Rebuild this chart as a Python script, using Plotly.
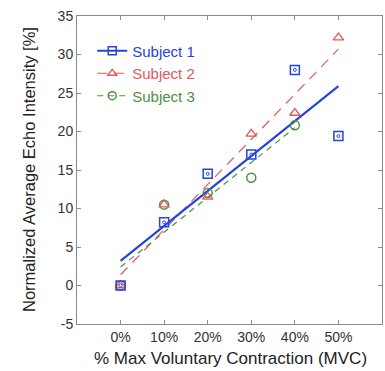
import plotly.graph_objects as go

x_vals = [0, 10, 20, 30, 40, 50]
tick_labels = ["0%", "10%", "20%", "30%", "40%", "50%"]
y_ticks = [-5, 0, 5, 10, 15, 20, 25, 30, 35]
y_tick_labels = ["-5", "0", "5", "10", "15", "20", "25", "30", "35"]

subject1 = [0, 8.2, 14.5, 17.0, 28.0, 19.4]
subject2 = [0, 10.5, 11.5, 19.7, 22.4, 32.2]
x3 = [0, 10, 20, 30, 40]
subject3 = [0, 10.5, 12.0, 14.0, 20.8]

fit1_x = [0, 50]
fit1_y = [3.2, 25.9]
fit2_x = [0, 50]
fit2_y = [1.4, 30.7]
fit3_x = [0, 40]
fit3_y = [2.4, 20.5]

blue = "#2543e0"
red = "#e05a5a"
green = "#4f8f45"

fig = go.Figure()

# fit lines
fig.add_trace(go.Scatter(x=fit2_x, y=fit2_y, mode="lines", showlegend=False,
                         line=dict(color=red, width=1.2, dash="10px,7px")))
fig.add_trace(go.Scatter(x=fit3_x, y=fit3_y, mode="lines", showlegend=False,
                         line=dict(color=green, width=1.2, dash="6px,5px")))
fig.add_trace(go.Scatter(x=fit1_x, y=fit1_y, mode="lines", showlegend=False,
                         line=dict(color=blue, width=2.2)))

# data markers
fig.add_trace(go.Scatter(x=x3, y=subject3, mode="markers", showlegend=False,
                         marker=dict(symbol="circle-open", size=9, color=green, line=dict(width=1.5))))
fig.add_trace(go.Scatter(x=x_vals, y=subject2, mode="markers", showlegend=False,
                         marker=dict(symbol="triangle-up-open", size=9, color=red, line=dict(width=1.3))))
fig.add_trace(go.Scatter(x=x_vals, y=subject1, mode="markers", showlegend=False,
                         marker=dict(symbol="square-open", size=9, color=blue, line=dict(width=1.5))))
fig.add_trace(go.Scatter(x=x_vals, y=subject1, mode="markers", showlegend=False,
                         marker=dict(symbol="circle-open", size=3, color=blue, line=dict(width=1))))

# legend entries
fig.add_trace(go.Scatter(x=[None], y=[None], mode="lines+markers",
                         name='<span style="color:%s">Subject 1</span>' % blue,
                         line=dict(color=blue, width=2.2),
                         marker=dict(symbol="square-open", size=8, color=blue, line=dict(width=1.5))))
fig.add_trace(go.Scatter(x=[None], y=[None], mode="lines+markers",
                         name='<span style="color:%s">Subject 2</span>' % red,
                         line=dict(color=red, width=1.2, dash="10px,7px"),
                         marker=dict(symbol="triangle-up-open", size=8, color=red, line=dict(width=1.3))))
fig.add_trace(go.Scatter(x=[None], y=[None], mode="lines+markers",
                         name='<span style="color:%s">Subject 3</span>' % green,
                         line=dict(color=green, width=1.2, dash="6px,5px"),
                         marker=dict(symbol="circle-open", size=8, color=green, line=dict(width=1.5))))

axis_common = dict(showline=True, mirror="ticks", linecolor="#8a8a8a", linewidth=1,
                   ticks="inside", ticklen=4, tickcolor="#8a8a8a", showgrid=False,
                   zeroline=False, automargin=False,
                   tickfont=dict(family="Liberation Sans, Arial", size=14, color="#333"))

fig.update_layout(
    width=385, height=371,
    margin=dict(l=77, r=3, t=16, b=47),
    paper_bgcolor="white", plot_bgcolor="white",
    font=dict(family="Liberation Sans, Arial", color="#333"),
    xaxis=dict(range=[-10, 60], tickvals=x_vals, ticktext=tick_labels, **axis_common),
    yaxis=dict(range=[-5, 35], tickvals=y_ticks, ticktext=y_tick_labels, **axis_common),
    legend=dict(x=0.05, y=0.94, xanchor="left", yanchor="top", bgcolor="rgba(0,0,0,0)",
                font=dict(size=15), tracegroupgap=0, itemwidth=30),
    annotations=[
        dict(text="% Max Voluntary Contraction (MVC)", xref="paper", yref="paper",
             x=(230 - 77) / 305, y=(16 + 308 - 358) / 308, xanchor="center", yanchor="middle",
             showarrow=False, font=dict(size=17, color="#222")),
        dict(text="Normalized Average Echo Intensity [%]", xref="paper", yref="paper",
             x=(29 - 77) / 305, y=0.5, xanchor="center", yanchor="middle", textangle=-90,
             showarrow=False, font=dict(size=16.5, color="#222")),
    ],
)

fig.write_html("out.html", config={"displayModeBar": False},
               post_script="document.body.style.margin='0';document.body.style.overflow='hidden';")
